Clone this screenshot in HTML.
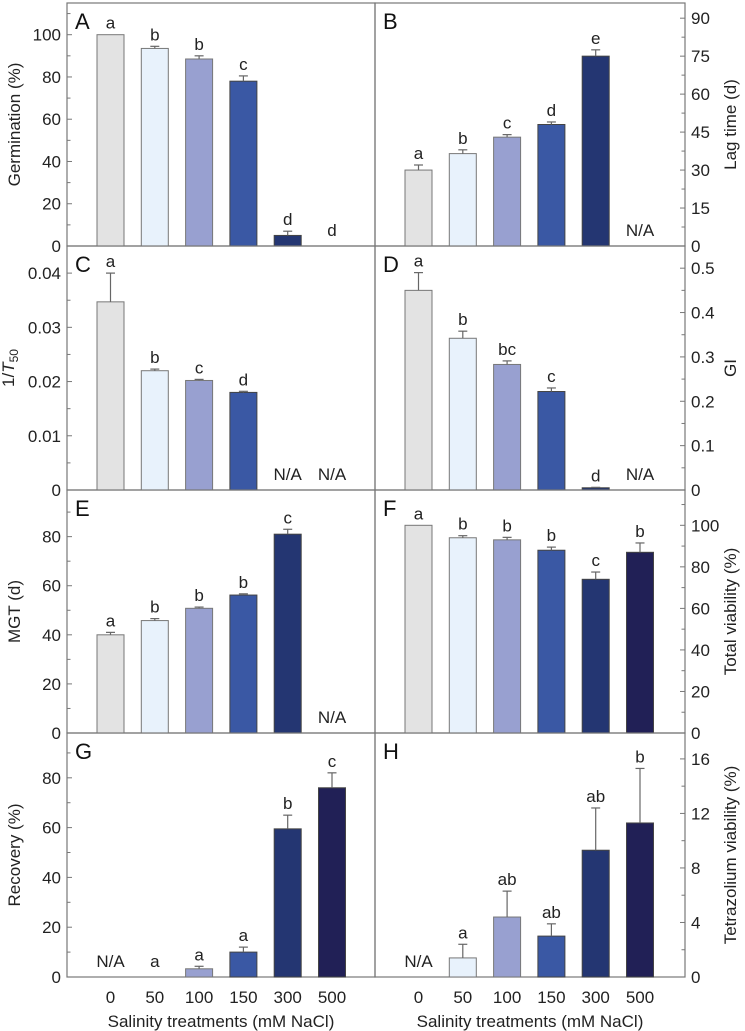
<!DOCTYPE html>
<html><head><meta charset="utf-8">
<style>
html,body{margin:0;padding:0;background:#fff;}
svg{display:block;font-family:"Liberation Sans",Arial,sans-serif;}
</style></head>
<body>
<svg id="chart" width="745" height="1031" viewBox="0 0 745 1031" xmlns="http://www.w3.org/2000/svg"></svg>
<script>
const categories = ["0","50","100","150","300","500"];
const colors = ["#e3e3e3","#e8f2fc","#98a0d0","#3a58a4","#243672","#212056"];
// Panel A: Germination (%)
const valuesA = [100, 93.5, 88.5, 78, 5, null];
const errA = [0, 1, 1.5, 2.5, 2, 0];
const lettersA = ["a","b","b","c","d","d"];
// Panel B: Lag time (d)
const valuesB = [30, 36.5, 43, 48, 75, null];
const errB = [2, 1.5, 1, 1, 2.5, 0];
const lettersB = ["a","b","c","d","e","N/A"];
// Panel C: 1/T50
const valuesC = [0.0347, 0.022, 0.0202, 0.018, null, null];
const errC = [0.0053, 0.0003, 0.0002, 0.0002, 0, 0];
const lettersC = ["a","b","c","d","N/A","N/A"];
// Panel D: GI
const valuesD = [0.45, 0.342, 0.283, 0.222, 0.005, null];
const errD = [0.04, 0.016, 0.008, 0.008, 0.001, 0];
const lettersD = ["a","b","bc","c","d","N/A"];
// Panel E: MGT (d)
const valuesE = [40, 45.8, 50.8, 56.2, 81, null];
const errE = [1, 0.8, 0.5, 0.5, 2, 0];
const lettersE = ["a","b","b","b","c","N/A"];
// Panel F: Total viability (%)
const valuesF = [100, 94, 93, 88, 74, 87];
const errF = [0, 1, 1.2, 1.5, 3.5, 4.5];
const lettersF = ["a","b","b","b","c","b"];
// Panel G: Recovery (%)
const valuesG = [null, 0, 3.3, 10, 59.5, 76];
const errG = [0, 0, 1, 2, 5.5, 6];
const lettersG = ["N/A","a","a","a","b","c"];
// Panel H: Tetrazolium viability (%)
const valuesH = [null, 1.4, 4.4, 3, 9.3, 11.3];
const errH = [0, 1, 1.9, 0.9, 3.1, 4];
const lettersH = ["N/A","a","ab","ab","ab","b"];
// Tick labels
const ticksA = ["0","20","40","60","80","100"];
const ticksB = ["0","15","30","45","60","75","90"];
const ticksC = ["0","0.01","0.02","0.03","0.04"];
const ticksD = ["0","0.1","0.2","0.3","0.4","0.5"];
const ticksE = ["0","20","40","60","80"];
const ticksF = ["0","20","40","60","80","100"];
const ticksG = ["0","20","40","60","80"];
const ticksH = ["0","4","8","12","16"];

const NS="http://www.w3.org/2000/svg";
const svg=document.getElementById('chart');
function mk(tag,attrs,parent){const e=document.createElementNS(NS,tag);for(const k in attrs)e.setAttribute(k,attrs[k]);(parent||svg).appendChild(e);return e;}

const panels=[
 {id:"A",side:"L",top:3,base:246,max:115,minor:10,vals:valuesA,err:errA,let:lettersA,ticks:ticksA,title:"Germination (%)"},
 {id:"B",side:"R",top:3,base:246,max:96,minor:7.5,vals:valuesB,err:errB,let:lettersB,ticks:ticksB,title:"Lag time (d)"},
 {id:"C",side:"L",top:246,base:490,max:0.045,minor:0.005,vals:valuesC,err:errC,let:lettersC,ticks:ticksC,title:"T50"},
 {id:"D",side:"R",top:246,base:490,max:0.55,minor:0.05,vals:valuesD,err:errD,let:lettersD,ticks:ticksD,title:"GI"},
 {id:"E",side:"L",top:490,base:733,max:99,minor:10,vals:valuesE,err:errE,let:lettersE,ticks:ticksE,title:"MGT (d)"},
 {id:"F",side:"R",top:490,base:733,max:117,minor:10,vals:valuesF,err:errF,let:lettersF,ticks:ticksF,title:"Total viability (%)"},
 {id:"G",side:"L",top:733,base:977,max:98,minor:10,vals:valuesG,err:errG,let:lettersG,ticks:ticksG,title:"Recovery (%)"},
 {id:"H",side:"R",top:733,base:977,max:17.9,minor:2,vals:valuesH,err:errH,let:lettersH,ticks:ticksH,title:"Tetrazolium viability (%)"}
];

panels.forEach(p=>{
 const x0=p.side==="L"?67:375, x1=p.side==="L"?375:685;
 const g=mk('g',{});
 
 
 const y=v=>p.base-(v/p.max)*(p.base-p.top);
 const xc=i=>x0+43.5+i*44.3;
 const fr=mk('rect',{x:x0,y:p.top,width:x1-x0,height:p.base-p.top,fill:'none',stroke:'#777','stroke-width':1.2},g);
 
 
 const step=parseFloat(p.ticks[1]);
 const ax=p.side==="L"?x0:x1, dir=p.side==="L"?1:-1;
 for(let v=0; v<=p.max+1e-9; v+=p.minor){
  const isMaj=Math.abs(v/step-Math.round(v/step))<1e-6;
  mk('line',{x1:ax,x2:ax+dir*(isMaj?5:3.5),y1:y(v),y2:y(v),stroke:'#777','stroke-width':1},g);
 }
 p.ticks.forEach(t=>{
  const v=parseFloat(t);
  const tx=mk('text',{x:p.side==="L"?ax-6:ax+6,y:y(v)+6,'font-size':17,'text-anchor':p.side==="L"?'end':'start',fill:'#222'},g);
  tx.textContent=t;
  
  
 });
 const mid=(p.top+p.base)/2;
 const tX=p.side==="L"?20:736;
 const at=mk('text',{x:tX,y:mid,'font-size':17,'text-anchor':'middle',fill:'#222',transform:`rotate(-90 ${tX} ${mid})`},g);
 
 
 if(p.title==="T50"){
  at.setAttribute('x',14);at.setAttribute('transform',`rotate(-90 14 ${mid})`);
  at.innerHTML='1/<tspan font-style="italic">T</tspan><tspan font-size="12" dy="4">50</tspan>';
 } else at.textContent=p.title;
 const pl=mk('text',{x:x0+8,y:p.top+26,'font-size':22,fill:'#111'},g);
 pl.textContent=p.id;
 
 
 p.vals.forEach((v,i)=>{
  const cx=xc(i);
  if(v!==null){
   const top=y(v);
   if(v>0){
    const r=mk('rect',{x:cx-13.5,y:top,width:27,height:p.base-top,fill:colors[i],stroke:i<3?'#777':'#444','stroke-width':1},g);
    
    
   }
   let et=top;
   if(p.err[i]>0){
    et=y(v+p.err[i]);
    mk('line',{x1:cx,x2:cx,y1:top,y2:et,stroke:'#666','stroke-width':1.2},g);
    mk('line',{x1:cx-4.5,x2:cx+4.5,y1:et,y2:et,stroke:'#666','stroke-width':1.2},g);
   }
   const ly=v>0?et-6:p.base-10;
   const lt=mk('text',{x:cx,y:ly,'font-size':17,'text-anchor':'middle',fill:'#222'},g);
   lt.textContent=p.let[i];
   
   
  } else {
   const lt=mk('text',{x:cx,y:p.base-10,'font-size':17,'text-anchor':'middle',fill:'#222'},g);
   lt.textContent=p.let[i];
   
   
  }
  if(p.id==="G"||p.id==="H"){
   const xt=mk('text',{x:cx,y:1003,'font-size':17,'text-anchor':'middle',fill:'#222'},g);
   xt.textContent=categories[i];
   
   
  }
 });
 if(p.id==="G"||p.id==="H"){
  const xt=mk('text',{x:(x0+x1)/2,y:1027,'font-size':17,'text-anchor':'middle',fill:'#222'},g);
  xt.textContent="Salinity treatments (mM NaCl)";
  
  
 }
});
</script>
</body></html>
